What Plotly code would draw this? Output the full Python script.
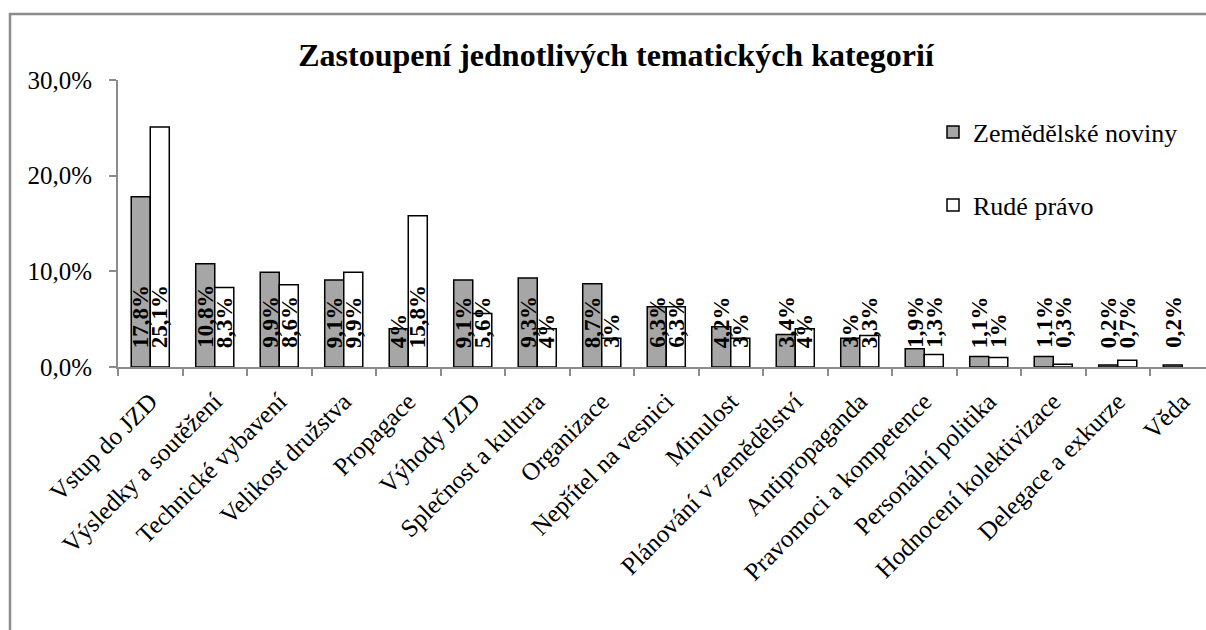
import plotly.graph_objects as go

categories = ["Vstup do JZD", "Výsledky a soutěžení", "Technické vybavení", "Velikost družstva",
              "Propagace", "Výhody JZD", "Splečnost a kultura", "Organizace", "Nepřítel na vesnici",
              "Minulost", "Plánování v zemědělství", "Antipropaganda", "Pravomoci a kompetence",
              "Personální politika", "Hodnocení kolektivizace", "Delegace a exkurze", "Věda"]
zemedelske_noviny = [17.8, 10.8, 9.9, 9.1, 4, 9.1, 9.3, 8.7, 6.3, 4.2, 3.4, 3, 1.9, 1.1, 1.1, 0.2, 0.2]
rude_pravo = [25.1, 8.3, 8.6, 9.9, 15.8, 5.6, 4, 3, 6.3, 3, 4, 3.3, 1.3, 1, 0.3, 0.7, None]
series_names = ["Zemědělské noviny", "Rudé právo"]
y_ticks = [0, 10, 20, 30]
y_tick_text = ["0,0%", "10,0%", "20,0%", "30,0%"]


def fmt(v):
    s = ("%.1f" % v).rstrip("0").rstrip(".")
    return s.replace(".", ",") + "%"


W, H = 1206, 630
L, T, B = 118, 80, 367      # plot area edges in pixels
cat_px = 64.5
PW = W - L
x_max = -0.5 + PW / cat_px
bargap = 0.41
bar_px = cat_px * (1 - bargap) / 2

fig = go.Figure()
series = [(series_names[0], zemedelske_noviny, "#a6a6a6", "legend"),
          (series_names[1], rude_pravo, "#ffffff", "legend2")]
for name, vals, color, leg in series:
    fig.add_trace(go.Bar(
        x=categories, y=vals, name=name,
        marker=dict(color=color, line=dict(color="#000000", width=1.5)),
        legend=leg,
    ))

# data labels (inside base, rotated)
annotations = []
for si, (name, vals, color, leg) in enumerate(series):
    shift = (-0.5 if si == 0 else 0.5) * bar_px
    for c, v in zip(categories, vals):
        if v is None:
            continue
        annotations.append(dict(
            x=c, y=0, xref="x", yref="y", text="<b>" + fmt(v) + "</b>", showarrow=False,
            textangle=-90, xanchor="center", yanchor="bottom", xshift=shift, yshift=17,
            font=dict(family="Liberation Serif", size=23, color="#000000")))

axis_col = "#8c8c8c"
fig.update_layout(
    width=W, height=H,
    margin=dict(l=L, r=0, t=T, b=H - B, pad=0),
    paper_bgcolor="#ffffff", plot_bgcolor="#ffffff",
    barmode="group", bargap=bargap, bargroupgap=0,
    font=dict(family="Liberation Serif", size=25, color="#000000"),
    title=dict(text="<b>Zastoupení jednotlivých tematických kategorií</b>",
               x=616 / W, xref="container", xanchor="center",
               y=1 - 55 / H, yref="container", yanchor="middle",
               font=dict(family="Liberation Serif", size=32, color="#000000")),
    xaxis=dict(type="category", range=[-0.5, x_max], showline=True, linecolor=axis_col, linewidth=2,
               ticks="outside", tickson="boundaries", ticklen=7, tickcolor=axis_col, tickwidth=2,
               tickangle=-45, showgrid=False, tickfont=dict(size=25), ticklabelstandoff=8),
    yaxis=dict(range=[0, 30], tickvals=y_ticks, ticktext=y_tick_text,
               showline=True, linecolor=axis_col, linewidth=2, ticks="outside", ticklen=7,
               tickcolor=axis_col, tickwidth=2, showgrid=False, zeroline=False,
               ticklabelstandoff=12, tickfont=dict(size=25)),
    legend=dict(x=(933 - L) / PW, y=1 - (132 - T) / (B - T), xanchor="left", yanchor="middle",
                bgcolor="rgba(0,0,0,0)", font=dict(size=26), itemwidth=30),
    legend2=dict(x=(933 - L) / PW, y=1 - (205 - T) / (B - T), xanchor="left", yanchor="middle",
                 bgcolor="rgba(0,0,0,0)", font=dict(size=26), itemwidth=30),
    showlegend=True,
    annotations=annotations,
)
# outer chart border
fig.add_shape(type="rect", xref="paper", yref="paper",
              x0=(10 - L) / PW, x1=(W + 20 - L) / PW,
              y0=1 + (T - (H + 20)) / (B - T), y1=1 + (T - 14) / (B - T),
              line=dict(color="#8c8c8c", width=2.5), fillcolor="rgba(0,0,0,0)", layer="below")

fig.write_html("out.html", config={"displayModeBar": False},
               post_script="document.body.style.margin='0';document.body.style.overflow='hidden';")
